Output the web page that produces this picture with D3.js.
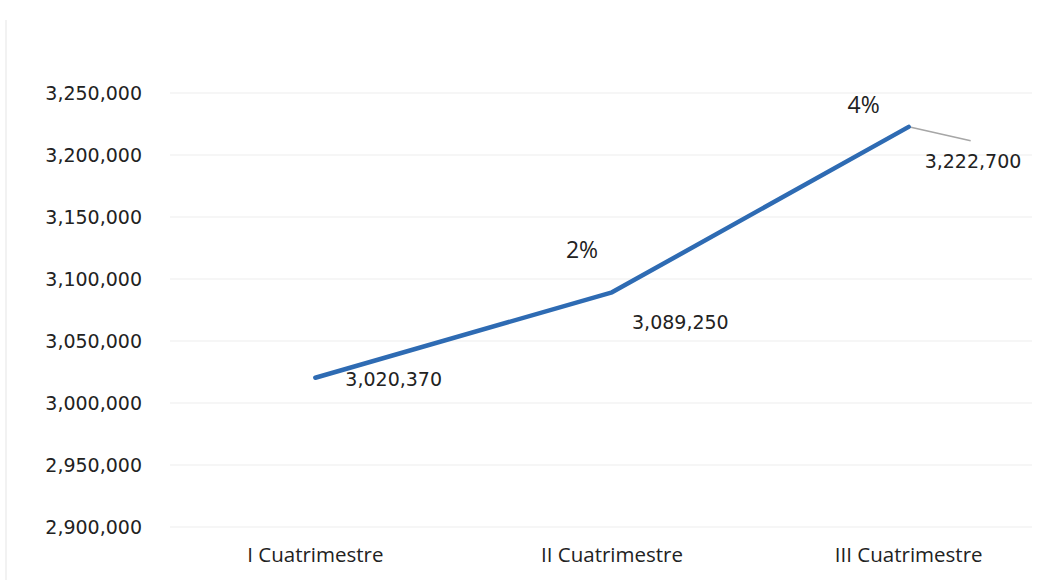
<!DOCTYPE html>
<html><head><meta charset="utf-8">
<script src="https://cdn.jsdelivr.net/npm/d3@7"></script>
<style>body{margin:0;background:#fff}svg{display:block}</style>
</head><body>
<script>
const categories = ["I Cuatrimestre", "II Cuatrimestre", "III Cuatrimestre"];
const values = [3020370, 3089250, 3222700];
const growthLabels = ["", "2%", "4%"];
const yTicks = [2900000, 2950000, 3000000, 3050000, 3100000, 3150000, 3200000, 3250000];

(function () {
const W = 1060, H = 585;
const svg = d3.select("body").append("svg").attr("width", W).attr("height", H);
const mLeft = 167, mRight = 1057, mTop = 93, mBottom = 527;

const x = d3.scaleBand().domain(categories).range([mLeft, mRight]);
const y = d3.scaleLinear().domain([2900000, 3250000]).range([mBottom, mTop]);
const fmt = d3.format(",");
const numFont = "DejaVu Sans, Verdana, sans-serif";

// faint border at left
svg.append("line").attr("x1", 6).attr("x2", 6).attr("y1", 20).attr("y2", 580)
  .attr("stroke", "#f2f2f2").attr("stroke-width", 2);

// gridlines
svg.append("g").selectAll("line").data(yTicks).join("line")
  .attr("x1", mLeft + 3).attr("x2", mRight - 25)
  .attr("y1", d => y(d)).attr("y2", d => y(d))
  .attr("stroke", "#f3f3f3").attr("stroke-width", 1.5);

// y axis labels
const yAxis = d3.axisLeft(y).tickValues(yTicks).tickFormat(fmt).tickSize(0).tickPadding(0);
const gy = svg.append("g").attr("transform", `translate(${mLeft - 25},0)`).call(yAxis);
gy.select(".domain").remove();
gy.selectAll("text").attr("font-family", numFont).attr("font-size", 19).attr("fill", "#222").attr("dy", "0.35em");

// x axis labels
const xAxis = d3.axisBottom(x).tickSize(0).tickPadding(0);
const gx = svg.append("g").attr("transform", `translate(0,${mBottom + 21})`).call(xAxis);
gx.select(".domain").remove();
gx.selectAll("text").attr("font-family", "Open Sans, sans-serif").attr("font-size", 20.5).attr("fill", "#222").attr("dy", "0.7em");

const pts = categories.map((c, i) => [x(c) + x.bandwidth() / 2, y(values[i])]);

// leader line for last label
const last = pts[2];
svg.append("line").attr("x1", last[0]).attr("y1", last[1]).attr("x2", last[0] + 62).attr("y2", last[1] + 14)
  .attr("stroke", "#a6a6a6").attr("stroke-width", 1.5);

// line
svg.append("path").datum(pts).attr("d", d3.line())
  .attr("fill", "none").attr("stroke", "#2e6bb3").attr("stroke-width", 4.5)
  .attr("stroke-linecap", "round").attr("stroke-linejoin", "round");

// data labels
const labelOffsets = [[30, 8], [20, 37], [16, 41]];
svg.append("g").selectAll("text").data(values).join("text")
  .attr("x", (d, i) => pts[i][0] + labelOffsets[i][0])
  .attr("y", (d, i) => pts[i][1] + labelOffsets[i][1])
  .attr("font-family", numFont).attr("font-size", 19).attr("fill", "#222")
  .text(d => fmt(d));

// growth labels
const growthOffsets = [[0, 0], [-30, -34], [-45, -14]];
svg.append("g").selectAll("text").data(growthLabels).join("text")
  .attr("x", (d, i) => pts[i][0] + growthOffsets[i][0])
  .attr("y", (d, i) => pts[i][1] + growthOffsets[i][1])
  .attr("text-anchor", "middle")
  .attr("font-family", "Open Sans, sans-serif").attr("font-size", 23).attr("fill", "#222")
  .text(d => d);
})();
</script>
</body></html>
